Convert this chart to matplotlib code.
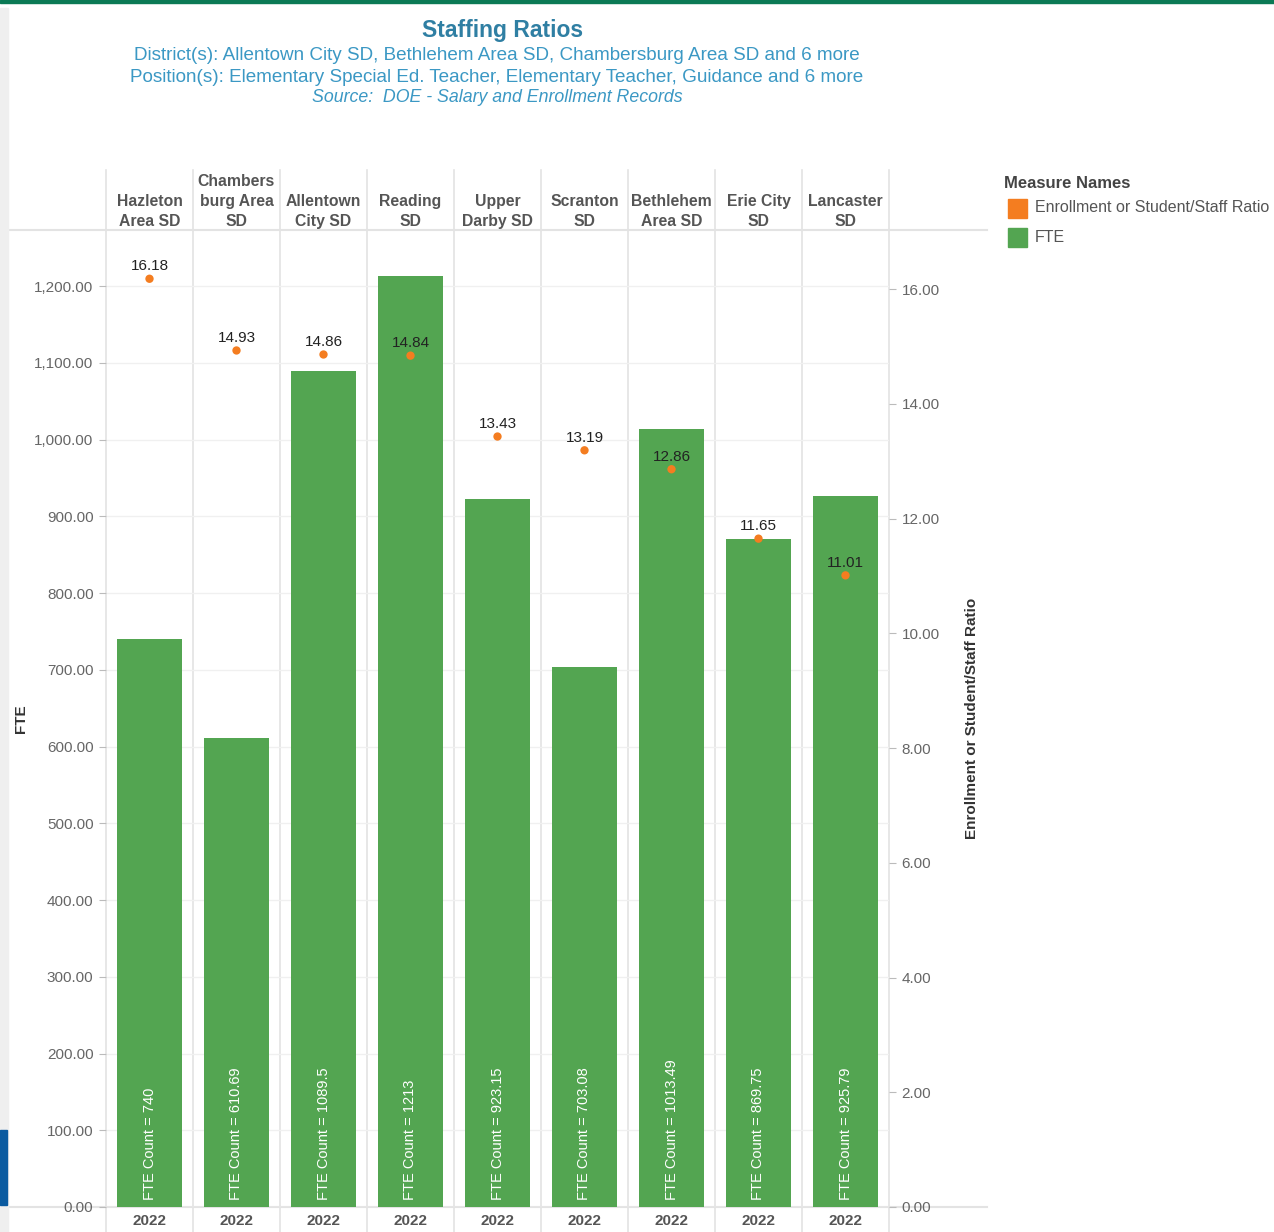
import matplotlib
matplotlib.use('Agg')
import matplotlib.pyplot as plt
from matplotlib.patches import Rectangle
from matplotlib.ticker import FuncFormatter

plt.rcParams['font.family'] = ['Liberation Sans', 'DejaVu Sans']

# Data
districts = ['Hazleton\nArea SD', 'Chambers\nburg Area\nSD', 'Allentown\nCity SD', 'Reading\nSD',
             'Upper\nDarby SD', 'Scranton\nSD', 'Bethlehem\nArea SD', 'Erie City\nSD', 'Lancaster\nSD']
years = ['2022'] * 9
fte = [740, 610.69, 1089.5, 1213, 923.15, 703.08, 1013.49, 869.75, 925.79]
ratio = [16.18, 14.93, 14.86, 14.84, 13.43, 13.19, 12.86, 11.65, 11.01]

green = '#53a551'
orange = '#f47d20'
grid_c = '#e3e3e3'
tick_c = '#666666'
title_c = '#2f7fa3'
sub_c = '#3b98c4'

fig = plt.figure(figsize=(12.74, 12.32), dpi=100)
W, H = 1274, 1232

# screenshot decorations
fig.patches.append(Rectangle((0, 1 - 3 / H), 1, 3 / H, transform=fig.transFigure, color='#0b7a55'))
fig.patches.append(Rectangle((0, 0), 8 / W, 1 - 8 / H, transform=fig.transFigure, color='#efefef'))
fig.patches.append(Rectangle((0, (H - 1205) / H), 7 / W, 75 / H, transform=fig.transFigure, color='#0a5aa0'))

ax = fig.add_axes([106 / W, 25 / H, 783 / W, 977 / H])
ax2 = ax.twinx()

x = list(range(len(fte)))
ax.bar(x, fte, width=0.75, color=green, zorder=2)
for i, v in enumerate(fte):
    ax.text(i, 9, f'FTE Count = {v:g}', rotation=90, ha='center', va='bottom',
            color='white', fontsize=10.5, zorder=3)

ax2.scatter(x, ratio, s=36, color=orange, zorder=4, edgecolors='none')
for i, r in enumerate(ratio):
    ax2.annotate(f'{r:.2f}', (i, r), xytext=(0, 4), textcoords='offset points',
                 ha='center', va='bottom', fontsize=11, color='#222222')

ax.set_xlim(-0.5, len(fte) - 0.5)
ax.set_ylim(0, 1273)
ax2.set_ylim(0, 17.03)

ax.set_yticks(list(range(0, 1201, 100)))
ax2.set_yticks(list(range(0, 17, 2)))
ax.yaxis.set_major_formatter(FuncFormatter(lambda v, p: f'{v:,.2f}'))
ax2.yaxis.set_major_formatter(FuncFormatter(lambda v, p: f'{v:.2f}'))
ax.tick_params(axis='y', labelsize=11, colors=tick_c, length=5, color='#bbbbbb', pad=4)
ax2.tick_params(axis='y', labelsize=11, colors=tick_c, length=5, color='#bbbbbb', pad=4)
ax.set_xticks([])
ax.grid(axis='y', color='#f0f0f0', lw=1, zorder=0)
for a in (ax, ax2):
    for s in a.spines.values():
        s.set_visible(False)

ax.set_ylabel('FTE', fontsize=11, fontweight='bold', color='#333333')
ax.yaxis.set_label_coords((28 - 106) / 783, 0.5)
ax2.set_ylabel('Enrollment or Student/Staff Ratio', fontsize=11, fontweight='bold', color='#333333')
ax2.yaxis.set_label_coords((965 - 106) / 783, 0.5)

# column separators extending into header and year rows
for b in range(len(fte) + 1):
    ax.axvline(b - 0.5, ymin=-0.0256, ymax=1.0614, color=grid_c, lw=1.2, clip_on=False, zorder=1)
for yy in (0, 1):
    ax.plot([-0.125, 1.125], [yy, yy], transform=ax.transAxes, color=grid_c, lw=1.5,
            clip_on=False, zorder=1)

# header labels and years
for i, d in enumerate(districts):
    ax.text(i, 1.0015, d, transform=ax.get_xaxis_transform(), ha='center', va='bottom',
            fontsize=11.3, fontweight='bold', color='#555555', linespacing=1.38)
    ax.text(i, -0.0145, years[i], transform=ax.get_xaxis_transform(), ha='center', va='center',
            fontsize=11, fontweight='bold', color='#555555')

# titles
fig.text(503 / W, 1 - 31 / H, 'Staffing Ratios', ha='center', va='center', fontsize=16.5,
         fontweight='bold', color=title_c)
fig.text(497 / W, 1 - 56 / H, 'District(s): Allentown City SD, Bethlehem Area SD, Chambersburg Area SD and 6 more',
         ha='center', va='center', fontsize=13.6, color=sub_c)
fig.text(497 / W, 1 - 78 / H, 'Position(s): Elementary Special Ed. Teacher, Elementary Teacher, Guidance and 6 more',
         ha='center', va='center', fontsize=13.6, color=sub_c)
fig.text(497 / W, 1 - 98 / H, 'Source:  DOE - Salary and Enrollment Records', ha='center', va='center',
         fontsize=12.8, style='italic', color=sub_c)

# legend
fig.text(1004 / W, 1 - 184 / H, 'Measure Names', ha='left', va='center', fontsize=12,
         fontweight='bold', color='#444444')
for k, (lab, c) in enumerate([('Enrollment or Student/Staff Ratio', orange), ('FTE', green)]):
    yc = 208 + 29 * k
    fig.patches.append(Rectangle((1008 / W, 1 - (yc + 10) / H), 19 / W, 19 / H,
                                 transform=fig.transFigure, color=c))
    fig.text(1035 / W, 1 - yc / H, lab, ha='left', va='center', fontsize=11.5, color='#555555')

fig.savefig('out.png', dpi=100)
